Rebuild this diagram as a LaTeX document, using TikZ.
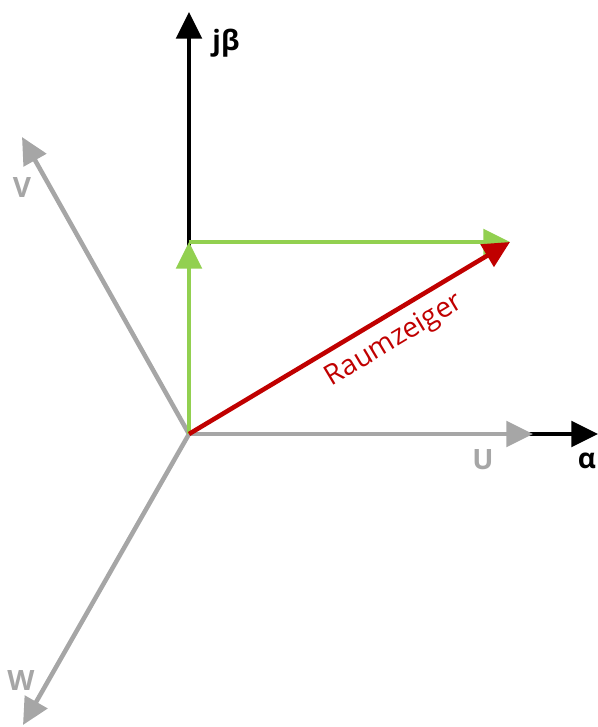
\documentclass[tikz,border=0pt]{standalone}
\usepackage{fontspec}
\setmainfont{Open Sans}
\usetikzlibrary{arrows.meta}
\definecolor{axgray}{HTML}{A6A6A6}
\definecolor{vgreen}{HTML}{92D050}
\definecolor{vred}{HTML}{C00000}
\tikzset{
  vec/.style={line width=3.4pt, -{Triangle[length=20pt,width=19pt]}},
  lbl/.style={font=\fontsize{21}{25}\selectfont\bfseries, inner sep=0pt},
}
\begin{document}
\begin{tikzpicture}[x=0.75pt,y=-0.75pt]
\useasboundingbox (0,0) rectangle (598,727);
\coordinate (O) at (189,434);
\coordinate (B) at (189,12);
\coordinate (A) at (598,434);
\coordinate (U) at (533,434);
\coordinate (V) at (22,137);
\coordinate (W) at (23,725);
\coordinate (G) at (189,242);
\coordinate (P) at (510,242);
% axes
\draw[vec, black] (O) -- (A);
\draw[vec, black] (O) -- (B);
% phase axes
\draw[vec, axgray] (O) -- (U);
\draw[vec, axgray] (O) -- (V);
\draw[vec, axgray] (O) -- (W);
% components
\draw[vec, vgreen] (O) -- (G);
\draw[vec, vgreen] (G) -- (P);
% space vector
\draw[vec, vred] (O) -- (P) node[pos=0.6, below, sloped, text=vred, font=\fontsize{21}{25}\selectfont, inner sep=7pt] (lr) {Raumzeiger};
% labels
\node[lbl] (lb) at (226,43) {jβ};
\node[lbl, text=axgray] (lv) at (22,188) {V};
\node[lbl, text=axgray] (lw) at (21,680) {W};
\node[lbl, text=axgray] (lu) at (483,460) {U};
\node[lbl] (la) at (587,461) {α};
\end{tikzpicture}
\end{document}
